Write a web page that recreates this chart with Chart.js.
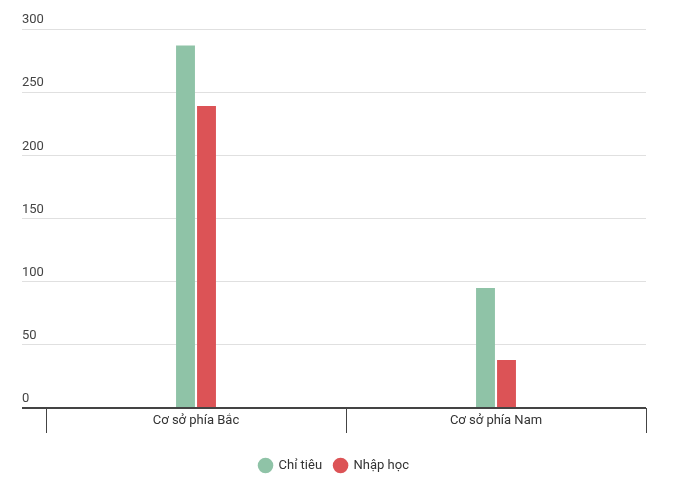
<!DOCTYPE html>
<html>
<head>
<meta charset="utf-8">
<script src="https://cdn.jsdelivr.net/npm/chart.js@4/dist/chart.umd.min.js"></script>
<style>
  body { margin: 0; background: #fff; }
  #wrap { width: 690px; height: 486px; }
</style>
</head>
<body>
<div id="wrap"><canvas id="bar-chart"></canvas></div>
<script>
// data
const categories = ['Cơ sở phía Bắc', 'Cơ sở phía Nam'];
const chiTieu = [287, 95];
const nhapHoc = [239, 38];
const seriesNames = ['Chỉ tiêu', 'Nhập học'];

Chart.defaults.font.family = 'Roboto';
Chart.defaults.font.size = 13;
Chart.defaults.color = '#333';

const ctx = document.getElementById('bar-chart').getContext('2d');
const barChart = new Chart(ctx, {
  type: 'bar',
  data: {
    labels: categories,
    datasets: [{
      label: seriesNames[0],
      data: chiTieu,
      backgroundColor: '#8fc3a7',
    }, {
      label: seriesNames[1],
      data: nhapHoc,
      backgroundColor: '#dc5356',
    }],
  },
  options: {
    responsive: true,
    maintainAspectRatio: false,
    animation: false,
    categoryPercentage: 0.14,
    barPercentage: 0.9,
    layout: {
      padding: { top: 29, left: 22, right: 44, bottom: 4 }
    },
    plugins: {
      tooltip: { enabled: false },
      legend: {
        position: 'bottom',
        labels: {
          usePointStyle: true,
          pointStyle: 'circle',
          boxHeight: 11,
          padding: 12,
          color: '#333',
        }
      }
    },
    scales: {
      x: {
        border: { display: false },
        grid: {
          offset: true,
          drawOnChartArea: false,
          tickLength: 25,
          color: '#444',
        },
        ticks: {
          padding: -20,
          color: '#333',
        },
        afterFit: (scale) => { scale.height = 39; },
      },
      y: {
        min: 0,
        max: 300,
        border: { display: false },
        grid: {
          tickLength: 24,
          color: (c) => c.tick && c.tick.value === 0 ? '#444' : '#e0e0e0',
          lineWidth: (c) => c.tick && c.tick.value === 0 ? 2 : 1,
        },
        ticks: {
          stepSize: 50,
          crossAlign: 'far',
          labelOffset: -9,
          color: '#444',
        },
        afterFit: (scale) => { scale.width = 24; },
      }
    }
  }
});
</script>
</body>
</html>
